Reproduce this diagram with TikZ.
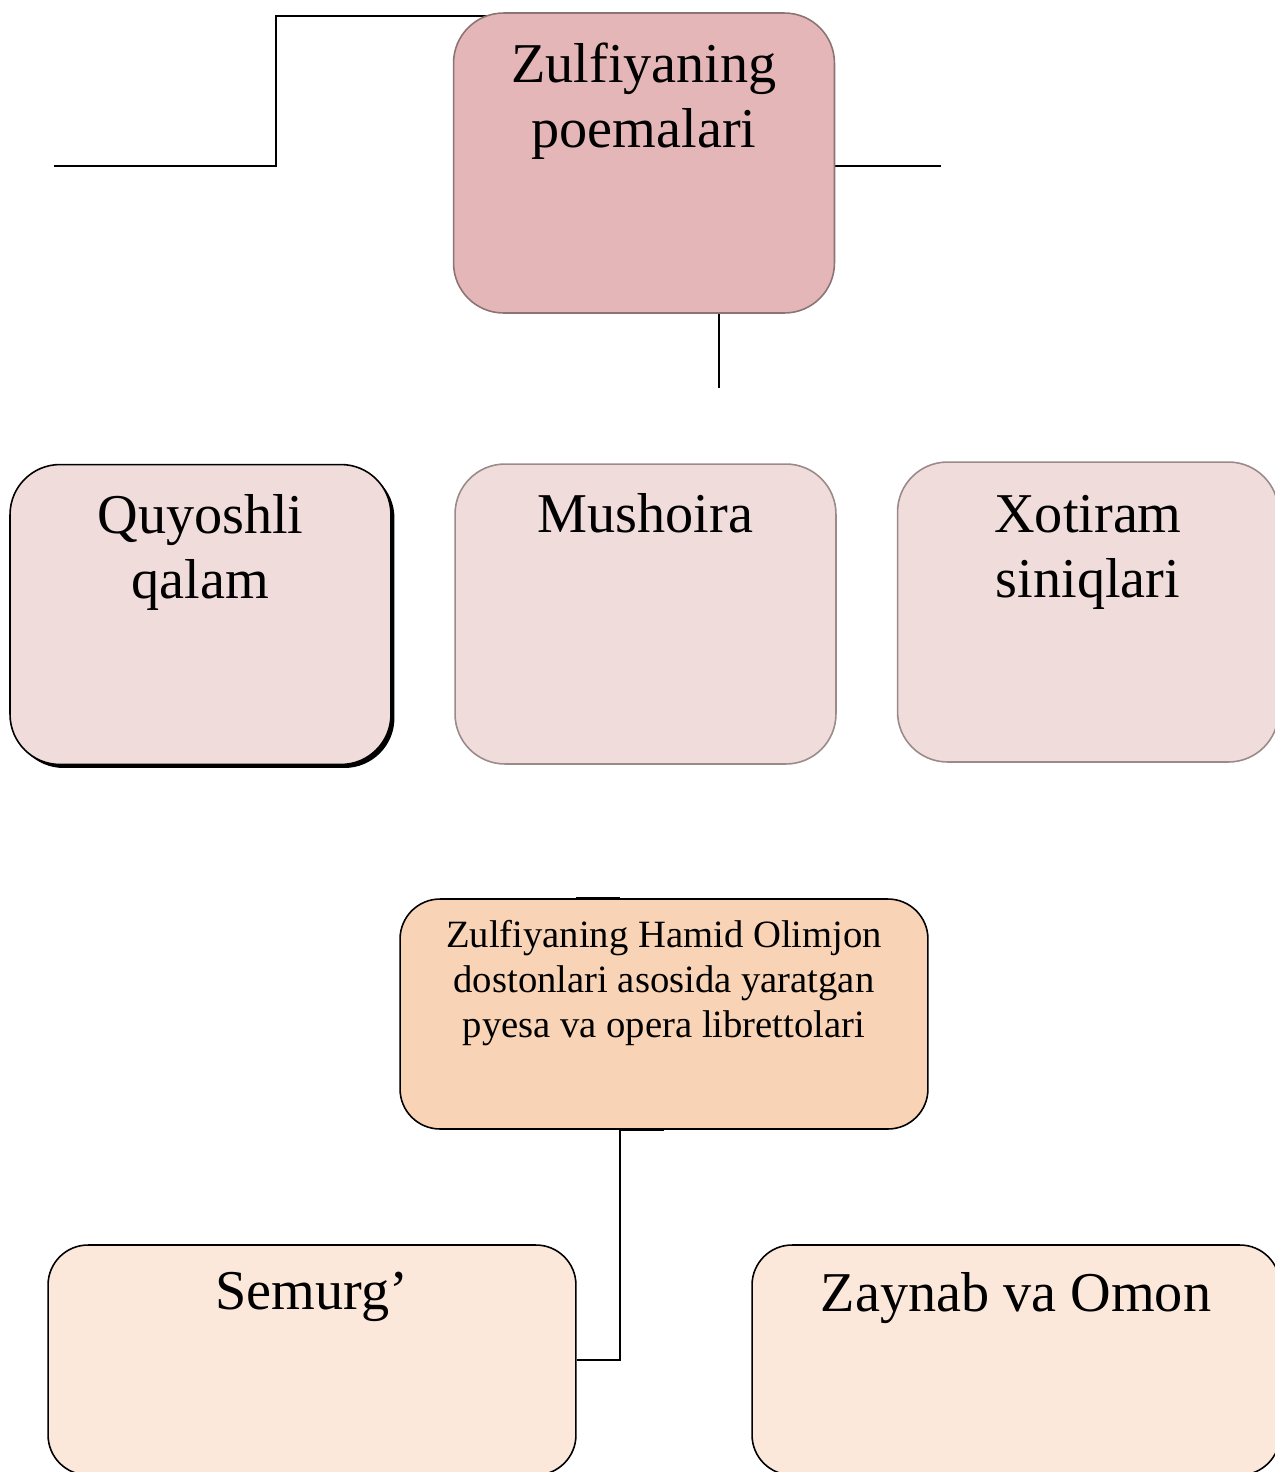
\documentclass[tikz,border=0pt]{standalone}
\usepackage{fontspec}
\setmainfont{Liberation Serif}
\usepackage{tikz}
\usetikzlibrary{positioning,shadows,backgrounds}
\definecolor{poemfill}{HTML}{E4B6B7}
\definecolor{poemline}{HTML}{8C7474}
\definecolor{titlefill}{HTML}{F1DCDC}
\definecolor{titleline}{HTML}{9A8A8A}
\definecolor{librfill}{HTML}{F9D3B5}
\definecolor{playfill}{HTML}{FCE8DA}

\begin{document}
\begin{tikzpicture}[x=0.02cm, y=-0.02cm,
  box/.style = {rectangle, rounded corners=1cm, line width=0.9pt,
    minimum width=7.62cm, minimum height=6cm, inner sep=0pt},
  widebox/.style = {box, rounded corners=0.8cm,
    minimum width=10.56cm, minimum height=4.6cm, draw=black},
  bigtxt/.style = {font=\fontsize{32}{37}\selectfont, align=center, inner sep=0pt},
  smalltxt/.style = {font=\fontsize{22}{25.6}\selectfont, align=center, inner sep=0pt},
  link/.style = {draw=black, line width=1.1pt}]
  \useasboundingbox (0,0) rectangle (1275,1472);

  \node[box, fill=poemfill, draw=poemline] (poema) at (644,163) {};
  \node[bigtxt, below=0.6cm of poema.north, anchor=north] (poemaT) {Zulfiyaning\\poemalari};

  \node[box, fill=titlefill, draw=black,
    drop shadow={shadow xshift=0.07cm, shadow yshift=-0.07cm, fill=black, opacity=1}]
    (quyosh) at (200.5,614.5) {};
  \node[bigtxt, below=0.6cm of quyosh.north, anchor=north] (quyoshT) {Quyoshli\\qalam};

  \node[box, fill=titlefill, draw=titleline] (mush) at (645.5,614) {};
  \node[bigtxt, below=0.6cm of mush.north, anchor=north] (mushT) {Mushoira};

  \node[box, fill=titlefill, draw=titleline] (xotir) at (1088,612) {};
  \node[bigtxt, below=0.68cm of xotir.north, anchor=north] (xotirT) {Xotiram\\siniqlari};

  \node[widebox, fill=librfill] (libr) at (664,1014) {};
  \node[smalltxt, below=0.44cm of libr.north, anchor=north] (librT)
    {Zulfiyaning Hamid Olimjon\\dostonlari asosida yaratgan\\pyesa va opera librettolari};

  \node[widebox, fill=playfill] (semurg) at (312,1360) {};
  \node[bigtxt, below=0.56cm of semurg.north, anchor=north] (semurgT) {Semurg’};

  \node[widebox, fill=playfill] (zaynab) at (1016,1360) {};
  \node[bigtxt, below=0.56cm of zaynab.north, anchor=north] (zaynabT) {Zaynab va Omon};

  \coordinate (bendA) at (276,16);
  \coordinate (endA) at (54,166);
  \coordinate (endB) at (941,166);
  \coordinate (endC) at (719,388);

  \begin{scope}[on background layer]
    \draw[link] (poema.north |- bendA) -- (bendA) |- (endA);
    \draw[link] (poema.east |- endB) -- (endB);
    \draw[link] (poema.south -| endC) -- (endC);
  \end{scope}
  \draw[link] ([xshift=-1.76cm]libr.north) -- ([xshift=-0.88cm]libr.north);
  \draw[link] ([xshift=-0.88cm]libr.south) -- (libr.south);
  \draw[link] ([xshift=-0.88cm]libr.south) |- (semurg.east);
\end{tikzpicture}
\end{document}
